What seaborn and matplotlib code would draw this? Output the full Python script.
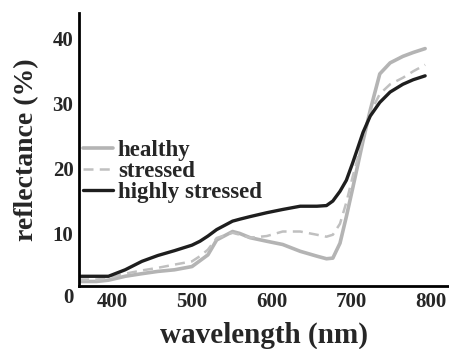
import matplotlib
matplotlib.use("Agg")
import matplotlib.pyplot as plt
import matplotlib.transforms as mtransforms
import pandas as pd
import seaborn as sns

# Leaf reflectance spectra for three plant conditions
wavelength = [358, 380, 395, 416, 437, 457, 478, 500, 510, 520, 531, 551, 560,
              573, 594, 614, 636, 657, 669, 677, 686, 694, 702, 707, 715, 724,
              736, 749, 765, 778, 793]
healthy = [2.6, 2.6, 2.8, 3.4, 3.8, 4.15, 4.4, 4.9, 5.8, 6.7, 9.0, 10.3, 10.0,
           9.35, 8.8, 8.3, 7.25, 6.5, 6.1, 6.2, 8.5, 12.6, 17.0, 19.8, 24.3, 29.0,
           34.6, 36.3, 37.3, 37.9, 38.5]
stressed = [2.9, 2.9, 3.1, 3.8, 4.3, 4.7, 5.2, 5.7, 6.5, 7.5, 9.3, 10.1, 9.8,
            9.35, 9.6, 10.3, 10.3, 9.8, 9.5, 9.8, 11.5, 14.8, 18.8, 21.0, 25.0, 28.6,
            31.5, 33.0, 34.0, 35.0, 36.0]
highly_stressed = [3.4, 3.4, 3.4, 4.4, 5.7, 6.6, 7.35, 8.2, 8.8, 9.6, 10.6, 11.9, 12.2,
                   12.6, 13.2, 13.7, 14.2, 14.2, 14.3, 15.0, 16.5, 18.2, 20.9, 22.7, 25.6, 28.1,
                   30.2, 31.8, 33.0, 33.7, 34.3]

series_names = ["healthy", "stressed", "highly stressed"]
x_ticks = [400, 500, 600, 700, 800]
y_ticks = [10, 20, 30, 40]

df = pd.DataFrame({
    "wavelength": wavelength * 3,
    "reflectance": healthy + stressed + highly_stressed,
    "condition": sum([[n] * len(wavelength) for n in series_names], []),
})

sns.set_style("white")
plt.rcParams["font.family"] = ["Liberation Serif", "DejaVu Serif"]
plt.rcParams["font.weight"] = "bold"

fig = plt.figure(figsize=(4.49, 3.49), dpi=100)
ax = fig.add_axes([0.176, 0.1805, 0.824, 0.7825])

palette = {"healthy": "#b4b4b4", "stressed": "#c0c0c0", "highly stressed": "#1e1e1e"}
widths = {"healthy": 2.6, "stressed": 1.8, "highly stressed": 2.4}
dashes = {"healthy": "-", "stressed": (0, (4, 2.5)), "highly stressed": "-"}

for name in series_names:
    sub = df[df["condition"] == name]
    sns.lineplot(data=sub, x="wavelength", y="reflectance", ax=ax,
                 color=palette[name], linewidth=widths[name],
                 linestyle=dashes[name], label=name, estimator=None)

ax.set_xlim(358, 823)
ax.set_ylim(1.9, 44)
ax.set_xticks(x_ticks)
ax.set_yticks(y_ticks)
ax.tick_params(length=0, labelsize=15, pad=4)
for lbl in ax.get_xticklabels() + ax.get_yticklabels():
    lbl.set_fontweight("bold")

# origin label sits below the lowered baseline
trans = mtransforms.blended_transform_factory(ax.transAxes, ax.transData)
ax.annotate("0", xy=(0, 0), xycoords=trans, xytext=(-4, 0),
            textcoords="offset points", ha="right", va="center",
            fontsize=15, fontweight="bold", annotation_clip=False)

for side in ["top", "right"]:
    ax.spines[side].set_visible(False)
for side in ["left", "bottom"]:
    ax.spines[side].set_color("black")
    ax.spines[side].set_linewidth(2.0)

ax.set_xlabel("wavelength (nm)", fontsize=21, fontweight="bold", labelpad=7)
ax.set_ylabel("reflectance (%)", fontsize=20, fontweight="bold", labelpad=10)

leg = ax.legend(loc="upper left", bbox_to_anchor=(0.012, 0.535), frameon=False,
                fontsize=16.5, handlelength=1.3, handletextpad=0.2,
                labelspacing=0.0, borderaxespad=0, borderpad=0)
for t in leg.get_texts():
    t.set_fontweight("bold")

fig.savefig("out.png", dpi=100)
